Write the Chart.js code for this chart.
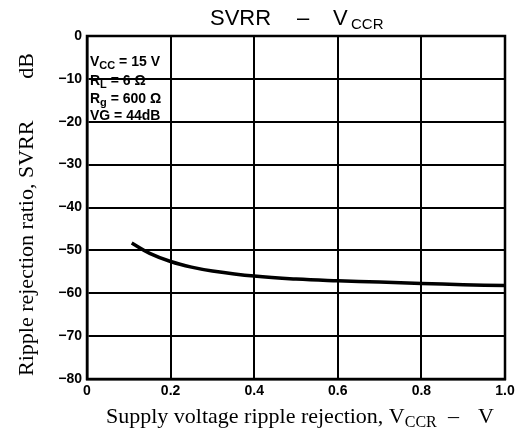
<!DOCTYPE html>
<html><head><meta charset="utf-8">
<script src="https://cdn.jsdelivr.net/npm/chart.js@4/dist/chart.umd.min.js"></script>
<style>html,body{margin:0;padding:0;background:#fff}#wrap{width:527px;height:434px}</style>
</head><body><div id="wrap"><canvas id="c" width="527" height="434"></canvas></div>
<script>
const vccr = [0.107, 0.15, 0.2, 0.25, 0.3, 0.4, 0.5, 0.6, 0.7, 0.8, 0.9, 1.0];
const svrr = [-48.3, -50.7, -52.6, -53.9, -54.8, -56.0, -56.7, -57.1, -57.4, -57.7, -58.0, -58.2];
const xTickLabels = ["0", "0.2", "0.4", "0.6", "0.8", "1.0"];
const yTickLabels = ["0", "\u221210", "\u221220", "\u221230", "\u221240", "\u221250", "\u221260", "\u221270", "\u221280"];
const conditions = [
  [["V", ""], ["CC", "sub"], [" = 15 V", ""]],
  [["R", ""], ["L", "sub"], [" = 6 \u03A9", ""]],
  [["R", ""], ["g", "sub"], [" = 600 \u03A9", ""]],
  [["VG = 44dB", ""]]
];

const SANS = '"Liberation Sans", Arial, sans-serif';
const SERIF = '"Liberation Serif", "Times New Roman", serif';

function drawRuns(ctx, runs, x, y, size, subSize, subDrop, weight, family) {
  for (const [t, k] of runs) {
    const s = k === 'sub' ? subSize : size;
    ctx.font = weight + ' ' + s + 'px ' + family;
    ctx.fillText(t, x, y + (k === 'sub' ? subDrop : 0));
    x += ctx.measureText(t).width;
  }
  return x;
}

const textPlugin = {
  id: 'texts',
  afterDraw(chart) {
    const ctx = chart.ctx;
    ctx.save();
    ctx.fillStyle = '#000';
    ctx.textBaseline = 'alphabetic';
    ctx.textAlign = 'left';
    // title
    ctx.font = '22px ' + SANS;
    ctx.fillText('SVRR', 210, 25);
    ctx.fillText('\u2013', 297, 25);
    ctx.fillText('V', 333, 25);
    ctx.font = '15px ' + SANS;
    ctx.fillText('CCR', 351, 29);
    // x label
    ctx.font = '22px ' + SERIF;
    ctx.fillText('Supply voltage ripple rejection, V', 106, 423);
    let x = 106 + ctx.measureText('Supply voltage ripple rejection, V').width;
    ctx.font = '16px ' + SERIF;
    ctx.fillText('CCR', x, 427);
    ctx.font = '22px ' + SERIF;
    ctx.fillText('\u2013', 448, 423);
    ctx.fillText('V', 478, 423);
    // y label
    ctx.translate(33, 376);
    ctx.rotate(-Math.PI / 2);
    ctx.font = '22px ' + SERIF;
    ctx.fillText('Ripple rejection ratio, SVRR', 0, 0);
    ctx.textAlign = 'right';
    ctx.fillText('dB', 323, 0);
    ctx.restore();
    // conditions
    ctx.save();
    ctx.fillStyle = '#000';
    const ys = [66, 85, 103, 120];
    conditions.forEach((runs, i) => {
      drawRuns(ctx, runs, 90, ys[i], 14, 11, 3, 'bold', SANS);
    });
    ctx.restore();
  }
};

new Chart(document.getElementById('c'), {
  type: 'line',
  data: {
    datasets: [{
      data: vccr.map((v, i) => ({x: v, y: svrr[i]})),
      borderColor: '#000',
      borderWidth: 3.5,
      pointRadius: 0,
      tension: 0.4,
      fill: false
    }]
  },
  options: {
    responsive: false,
    animation: false,
    devicePixelRatio: 1,
    layout: {padding: {top: 36, right: 22, left: 0, bottom: 0}},
    plugins: {legend: {display: false}, tooltip: {enabled: false}, title: {display: false}},
    scales: {
      x: {
        type: 'linear', min: 0, max: 1,
        afterFit(s) { s.height = 55; },
        afterBuildTicks(s) { s.ticks = xTickLabels.map(t => ({value: parseFloat(t)})); },
        ticks: {
          color: '#000', padding: 4,
          font: {family: SANS, size: 14, weight: 'bold'},
          callback: (v, i) => xTickLabels[i]
        },
        grid: {color: '#000', lineWidth: 2, drawTicks: false},
        border: {color: '#000', width: 2.5}
      },
      y: {
        type: 'linear', min: -80, max: 0,
        afterFit(s) { s.width = 87; },
        afterBuildTicks(s) { s.ticks = yTickLabels.map((t, i) => ({value: -10 * i})); },
        ticks: {
          color: '#000', padding: 5,
          font: {family: SANS, size: 14, weight: 'bold'},
          callback: (v, i) => yTickLabels[i]
        },
        grid: {color: '#000', lineWidth: 2, drawTicks: false},
        border: {color: '#000', width: 2.5}
      }
    }
  },
  plugins: [textPlugin,
    {id: 'frame', afterDatasetsDraw(chart) {
      const a = chart.chartArea, ctx = chart.ctx;
      ctx.save(); ctx.strokeStyle = '#000'; ctx.lineWidth = 2.5;
      ctx.strokeRect(a.left, a.top, a.right - a.left, a.bottom - a.top);
      ctx.restore();
    }}]
});
</script>
</body></html>
